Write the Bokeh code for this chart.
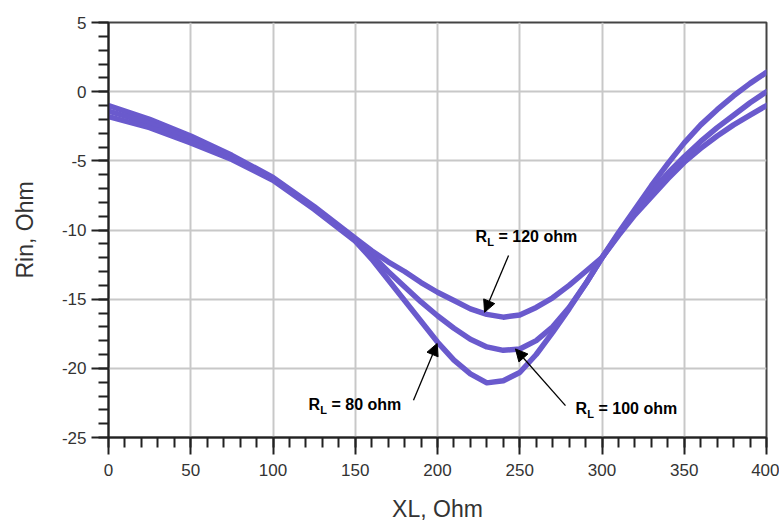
from bokeh.plotting import figure
from bokeh.models import (Range1d, SingleIntervalTicker, Label, Arrow, NormalHead,
                          CustomJSTickFormatter)
from bokeh.embed import file_html
from bokeh.resources import INLINE

# ---- data ----
xl = [0, 25, 50, 75, 100, 125, 150, 160, 170, 180, 190, 200, 210, 220, 230, 240,
      250, 260, 270, 280, 290, 300, 310, 320, 330, 340, 350, 360, 370, 380, 390, 400]

rin_120 = [-1.0, -2.0, -3.2, -4.6, -6.2, -8.3, -10.6, -11.5, -12.3, -13.0, -13.8, -14.5,
           -15.1, -15.7, -16.1, -16.3, -16.15, -15.6, -14.9, -14.0, -13.0, -12.0, -10.4,
           -8.9, -7.6, -6.3, -5.1, -4.1, -3.2, -2.4, -1.7, -1.0]
rin_100 = [-1.4, -2.3, -3.4, -4.7, -6.3, -8.4, -10.7, -11.8, -13.0, -14.1, -15.2, -16.2,
           -17.1, -17.9, -18.45, -18.7, -18.6, -18.0, -17.0, -15.6, -13.9, -12.0, -10.3,
           -8.7, -7.2, -5.9, -4.7, -3.6, -2.6, -1.7, -0.8, 0.0]
rin_80 = [-1.8, -2.6, -3.7, -4.9, -6.4, -8.5, -10.8, -12.1, -13.6, -15.1, -16.6, -18.1,
          -19.4, -20.4, -21.05, -20.9, -20.3, -19.0, -17.4, -15.7, -13.9, -12.0, -10.2,
          -8.5, -6.8, -5.2, -3.7, -2.4, -1.3, -0.3, 0.6, 1.4]

x_ticks = [0, 50, 100, 150, 200, 250, 300, 350, 400]
y_ticks = [5, 0, -5, -10, -15, -20, -25]
x_title = "XL, Ohm"
y_title = "Rin, Ohm"

# annotations
ann_text = ["= 120 ohm", "= 80 ohm", "= 100 ohm"]
ann_lx = [223.1, 121.6, 283.9]
ann_ly = [-11.05, -23.2, -23.5]
arr_x0 = [243.2, 185.4, 277.8]
arr_y0 = [-11.85, -22.3, -22.7]
arr_x1 = [228.6, 199.8, 247.4]
arr_y1 = [-15.95, -18.2, -18.6]

CURVE = "#6a5acd"
FONT = "Liberation Sans"

p = figure(width=779, height=524, output_backend="svg", toolbar_location=None,
           x_range=Range1d(0, 400), y_range=Range1d(-25, 5),
           min_border_left=108, min_border_right=13, min_border_top=22,
           min_border_bottom=87)
p.background_fill_color = "white"
p.border_fill_color = "white"
p.outline_line_color = "#444444"
p.outline_line_width = 2

p.xaxis.ticker = SingleIntervalTicker(interval=50, num_minor_ticks=5)
p.yaxis.ticker = SingleIntervalTicker(interval=5, num_minor_ticks=5)
p.xaxis.formatter = CustomJSTickFormatter(code="return tick.toString()")
p.yaxis.formatter = CustomJSTickFormatter(code="return tick.toString()")

for ax in (p.xaxis[0], p.yaxis[0]):
    ax.axis_line_color = "#222222"
    ax.axis_line_width = 2
    ax.major_tick_line_color = "#222222"
    ax.major_tick_line_width = 2
    ax.minor_tick_line_color = "#222222"
    ax.minor_tick_line_width = 2
    ax.major_tick_out = 17
    ax.major_tick_in = 0
    ax.minor_tick_out = 10
    ax.minor_tick_in = 0
    ax.major_label_text_font = FONT
    ax.major_label_text_font_size = "17px"
    ax.major_label_text_color = "#333333"
    ax.axis_label_text_font = FONT
    ax.axis_label_text_font_size = "23px"
    ax.axis_label_text_font_style = "normal"
    ax.axis_label_text_color = "#333333"

p.xaxis.major_label_standoff = 9
p.yaxis.major_label_standoff = 5
p.xaxis.axis_label = x_title
p.xaxis.axis_label_standoff = 17
p.yaxis.axis_label = y_title
p.yaxis.axis_label_standoff = 21

p.grid.grid_line_color = "#c8c8c8"
p.grid.grid_line_width = 2

for ys in (rin_120, rin_100, rin_80):
    p.line(xl, ys, line_color=CURVE, line_width=5.5, line_join="round", line_cap="round")

for i in range(3):
    p.add_layout(Label(x=ann_lx[i], y=ann_ly[i], text="R", text_font=FONT,
                       text_font_size="16px", text_font_style="bold",
                       text_color="black"))
    p.add_layout(Label(x=ann_lx[i], y=ann_ly[i], x_offset=11.7, y_offset=-3,
                       text="L", text_font=FONT, text_font_size="11px",
                       text_font_style="bold", text_color="black"))
    p.add_layout(Label(x=ann_lx[i], y=ann_ly[i], x_offset=23, text=ann_text[i],
                       text_font=FONT, text_font_size="16px",
                       text_font_style="bold", text_color="black"))
    p.add_layout(Arrow(end=NormalHead(size=12, fill_color="black", line_color="black"),
                       x_start=arr_x0[i], y_start=arr_y0[i],
                       x_end=arr_x1[i], y_end=arr_y1[i],
                       line_color="black", line_width=1.3))

open("out.html", "w").write(file_html(p, INLINE))
